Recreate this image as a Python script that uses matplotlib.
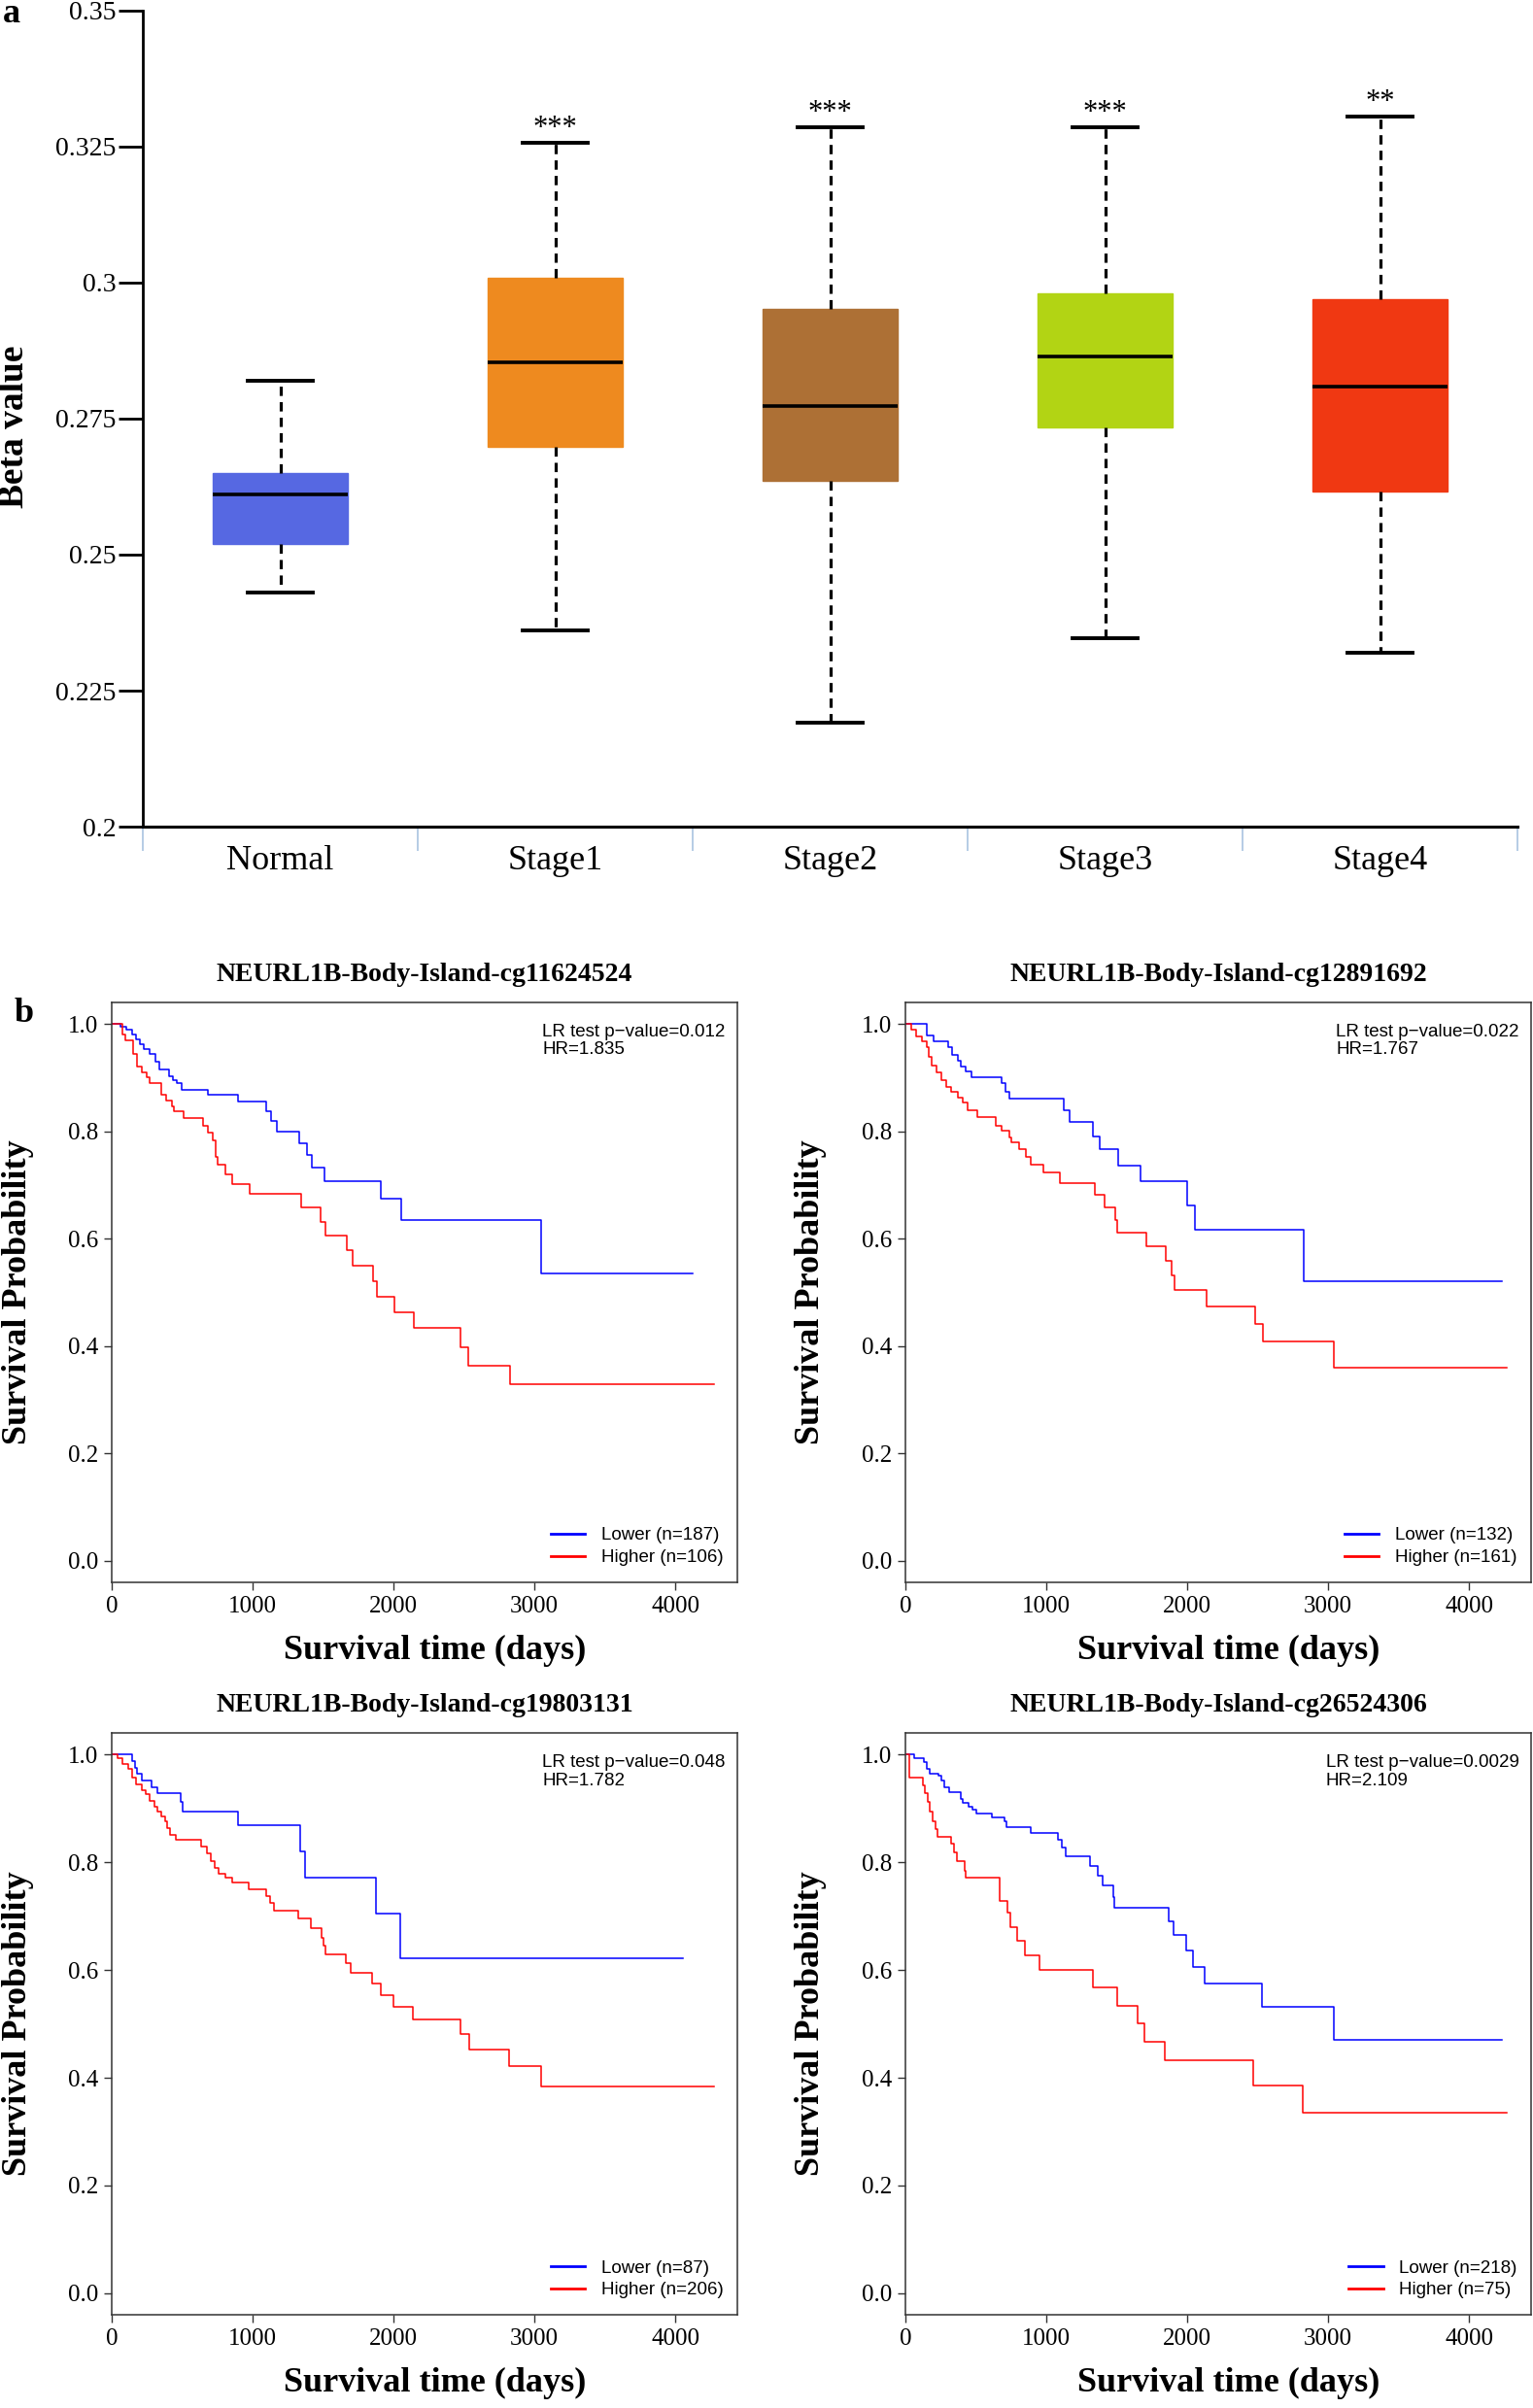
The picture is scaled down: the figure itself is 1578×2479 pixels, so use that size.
import numpy as np
import matplotlib
matplotlib.use('Agg')
import matplotlib.pyplot as plt
from matplotlib.ticker import FormatStrFormatter

plt.rcParams['font.family'] = ['Liberation Serif', 'DejaVu Serif']
SANS = ['Liberation Sans', 'DejaVu Sans']

# ---- panel a: beta values per stage ----
groups = ['Normal', 'Stage1', 'Stage2', 'Stage3', 'Stage4']
whislo = [0.243, 0.236, 0.2192, 0.2347, 0.232]
q1 = [0.252, 0.2698, 0.2636, 0.2734, 0.2616]
med = [0.261, 0.2853, 0.2774, 0.2864, 0.2808]
q3 = [0.265, 0.3008, 0.2952, 0.298, 0.2969]
whishi = [0.2819, 0.3257, 0.3285, 0.3285, 0.3305]
signif = ['', '***', '***', '***', '**']
box_colors = ['#5668E2', '#EE8A1F', '#AD7035', '#B2D414', '#F03812']
yticks_a = [0.2, 0.225, 0.25, 0.275, 0.3, 0.325, 0.35]
yticklabels_a = ['0.2', '0.225', '0.25', '0.275', '0.3', '0.325', '0.35']

# ---- panel b: Kaplan-Meier curves ----
km_titles = ['NEURL1B-Body-Island-cg11624524', 'NEURL1B-Body-Island-cg12891692',
             'NEURL1B-Body-Island-cg19803131', 'NEURL1B-Body-Island-cg26524306']
km_pvals = ['0.012', '0.022', '0.048', '0.0029']
km_hr = ['1.835', '1.767', '1.782', '2.109']
n_lower = [187, 132, 87, 218]
n_higher = [106, 161, 206, 75]

low_t1 = [0, 59, 100, 146, 175, 200, 230, 270, 313, 337, 406, 431, 465, 493, 684, 899, 1094, 1128,
          1170, 1330, 1385, 1420, 1507, 1910, 2056, 3045, 4122]
low_s1 = [1.0, 0.994, 0.989, 0.981, 0.972, 0.963, 0.954, 0.945, 0.929, 0.916, 0.903, 0.896, 0.889, 0.878,
          0.868, 0.855, 0.837, 0.819, 0.800, 0.778, 0.756, 0.732, 0.708, 0.675, 0.634, 0.536, 0.536]
high_t1 = [0, 76, 94, 153, 181, 215, 250, 267, 354, 389, 424, 441, 510, 649, 684, 719, 736, 753, 806,
           858, 979, 1344, 1483, 1517, 1667, 1708, 1854, 1882, 2003, 2142, 2472, 2531, 2826, 4271]
high_s1 = [1.0, 0.98, 0.97, 0.945, 0.92, 0.909, 0.9, 0.889, 0.869, 0.857, 0.846, 0.837, 0.824, 0.81,
           0.797, 0.783, 0.752, 0.738, 0.72, 0.702, 0.684, 0.659, 0.632, 0.605, 0.578, 0.549, 0.52,
           0.492, 0.463, 0.434, 0.398, 0.363, 0.329, 0.329]

low_t2 = [0, 149, 200, 304, 332, 373, 390, 425, 470, 684, 712, 736, 1126, 1168, 1333, 1382, 1513,
          1668, 2003, 2052, 2826, 4231]
low_s2 = [1.0, 0.978, 0.968, 0.956, 0.942, 0.932, 0.92, 0.912, 0.901, 0.889, 0.873, 0.86, 0.839,
          0.817, 0.79, 0.766, 0.736, 0.707, 0.661, 0.616, 0.52, 0.52]
high_t2 = [0, 45, 79, 114, 149, 166, 183, 218, 252, 287, 321, 373, 408, 442, 511, 642, 684, 736, 753,
           805, 857, 891, 978, 1098, 1347, 1416, 1489, 1506, 1713, 1851, 1886, 1910, 2135, 2480, 2539,
           3043, 4269]
high_s2 = [1.0, 0.99, 0.977, 0.968, 0.956, 0.938, 0.923, 0.909, 0.896, 0.882, 0.873, 0.862, 0.853,
           0.839, 0.826, 0.81, 0.801, 0.788, 0.779, 0.766, 0.752, 0.738, 0.723, 0.704, 0.682, 0.659,
           0.635, 0.612, 0.585, 0.558, 0.531, 0.505, 0.474, 0.441, 0.408, 0.36, 0.36]

low_t3 = [0, 145, 163, 180, 215, 284, 326, 492, 502, 897, 1340, 1375, 1877, 2050, 4052]
low_s3 = [1.0, 0.988, 0.976, 0.964, 0.952, 0.94, 0.928, 0.912, 0.895, 0.869, 0.82, 0.772, 0.704,
          0.621, 0.621]
high_t3 = [0, 42, 76, 118, 145, 173, 215, 242, 267, 301, 326, 353, 377, 395, 416, 457, 637, 672, 706,
           734, 758, 803, 855, 970, 1098, 1122, 1150, 1323, 1416, 1489, 1503, 1517, 1659, 1693, 1849,
           1912, 1998, 2137, 2473, 2535, 2823, 3044, 4277]
high_s3 = [1.0, 0.993, 0.982, 0.974, 0.958, 0.945, 0.934, 0.926, 0.914, 0.904, 0.895, 0.886, 0.877,
           0.864, 0.851, 0.842, 0.829, 0.816, 0.803, 0.79, 0.779, 0.771, 0.762, 0.75, 0.737, 0.724,
           0.711, 0.695, 0.678, 0.66, 0.645, 0.63, 0.613, 0.595, 0.575, 0.553, 0.532, 0.508, 0.481,
           0.453, 0.422, 0.384, 0.384]

low_t4 = [0, 62, 131, 149, 176, 235, 252, 276, 311, 390, 408, 449, 477, 501, 615, 701, 718, 891, 1085,
          1109, 1140, 1313, 1368, 1402, 1478, 1485, 1872, 1900, 1990, 2038, 2124, 2532, 3040, 4231]
low_s4 = [1.0, 0.993, 0.987, 0.974, 0.965, 0.961, 0.952, 0.94, 0.93, 0.917, 0.911, 0.904, 0.897,
          0.891, 0.884, 0.877, 0.866, 0.855, 0.842, 0.827, 0.812, 0.794, 0.775, 0.757, 0.735, 0.715,
          0.691, 0.665, 0.636, 0.606, 0.575, 0.532, 0.47, 0.47]
high_t4 = [0, 28, 124, 138, 159, 176, 193, 211, 228, 321, 345, 366, 418, 425, 667, 725, 743, 794, 846,
           953, 1333, 1503, 1651, 1696, 1841, 2466, 2819, 4269]
high_s4 = [1.0, 0.958, 0.943, 0.928, 0.912, 0.895, 0.877, 0.862, 0.847, 0.834, 0.818, 0.803, 0.785,
           0.772, 0.729, 0.707, 0.68, 0.654, 0.628, 0.601, 0.567, 0.534, 0.501, 0.466, 0.433, 0.385,
           0.335, 0.335]

low_t = [low_t1, low_t2, low_t3, low_t4]
low_s = [low_s1, low_s2, low_s3, low_s4]
high_t = [high_t1, high_t2, high_t3, high_t4]
high_s = [high_s1, high_s2, high_s3, high_s4]

fig = plt.figure(figsize=(15.78, 24.79), dpi=100)

# ---------------- panel a ----------------
ax = fig.add_axes([0.0932, 0.6567, 0.8968, 0.3389])
stats = [dict(med=m, q1=a, q3=b, whislo=lo, whishi=hi, fliers=[])
         for m, a, b, lo, hi in zip(med, q1, q3, whislo, whishi)]
pos = np.arange(1, len(groups) + 1)
bp = ax.bxp(stats, positions=pos, widths=0.49, capwidths=0.235, patch_artist=True,
            showfliers=False,
            medianprops=dict(color='black', lw=2.6),
            whiskerprops=dict(color='black', lw=2.3, linestyle=(0, (3, 2))),
            capprops=dict(color='black', lw=2.8),
            boxprops=dict(lw=1))
for patch, c in zip(bp['boxes'], box_colors):
    patch.set_facecolor(c)
    patch.set_edgecolor(c)

for p, s, hi in zip(pos, signif, whishi):
    if s:
        ax.annotate(s, (p, hi), xytext=(0, 5), textcoords='offset points',
                    ha='center', va='baseline', fontsize=22)

ax.set_xlim(0.5, 5.5)
ax.set_ylim(0.2, 0.35)
ax.spines['top'].set_visible(False)
ax.spines['right'].set_visible(False)
ax.spines['left'].set_linewidth(2)
ax.spines['bottom'].set_linewidth(2.2)
ax.set_yticks(yticks_a)
ax.set_yticklabels(yticklabels_a)
ax.tick_params(axis='y', length=18, width=2, labelsize=20, pad=2)
ax.set_xticks(np.arange(0.5, 5.6, 1.0))
ax.set_xticklabels([])
ax.tick_params(axis='x', which='major', length=18, width=1.2, color='#A9C4E0')
ax.set_xticks(pos, minor=True)
ax.set_xticklabels(groups, minor=True)
ax.tick_params(axis='x', which='minor', length=0, pad=14, labelsize=26)

fig.text(0.009, 0.823, 'Beta value', rotation=90, fontsize=27, fontweight='bold',
         ha='center', va='center')
fig.text(0.002, 0.9907, 'a', fontsize=26, fontweight='bold', ha='left', va='baseline')

# ---------------- panel b ----------------
km_rects = [[0.0729, 0.3429, 0.4081, 0.2408], [0.5906, 0.3429, 0.4081, 0.2408],
            [0.0729, 0.0387, 0.4081, 0.2416], [0.5906, 0.0387, 0.4081, 0.2416]]
for i, rect in enumerate(km_rects):
    ax = fig.add_axes(rect)
    ax.step(low_t[i], low_s[i], where='post', color='#0000FF', lw=1.1,
            label=f'Lower (n={n_lower[i]})')
    ax.step(high_t[i], high_s[i], where='post', color='#FF0000', lw=1.1,
            label=f'Higher (n={n_higher[i]})')
    ax.set_xlim(0, 4440)
    ax.set_ylim(-0.04, 1.04)
    ax.set_xticks([0, 1000, 2000, 3000, 4000])
    ax.set_yticks(np.arange(0, 1.01, 0.2))
    ax.yaxis.set_major_formatter(FormatStrFormatter('%.1f'))
    ax.tick_params(length=6, width=1, labelsize=18, pad=4, color='#333333')
    for sp in ax.spines.values():
        sp.set_linewidth(1.1)
        sp.set_color('#333333')

    ax.set_title(km_titles[i], fontsize=20, fontweight='bold', pad=16)
    ax.set_xlabel('Survival time (days)', fontsize=26, fontweight='bold')
    ax.set_ylabel('Survival Probability', fontsize=26, fontweight='bold')
    ax.xaxis.set_label_coords(0.516, -0.09)
    ax.yaxis.set_label_coords(-0.125, 0.5)

    ax.text(0.981, 0.963, f'LR test p\u2212value={km_pvals[i]}\nHR={km_hr[i]}',
            transform=ax.transAxes, ha='right', va='top', multialignment='left',
            fontsize=13.5, family=SANS, linespacing=1.1)
    leg = ax.legend(loc='lower right', bbox_to_anchor=(0.978, 0.028), frameon=False,
                    borderpad=0, borderaxespad=0, handlelength=1.9, handletextpad=0.9,
                    labelspacing=0.3, prop={'family': SANS, 'size': 13.5})
    for ln in leg.get_lines():
        ln.set_linewidth(2)

fig.text(0.009, 0.5757, 'b', fontsize=26, fontweight='bold', ha='left', va='baseline')

fig.savefig('out.png', dpi=100)
